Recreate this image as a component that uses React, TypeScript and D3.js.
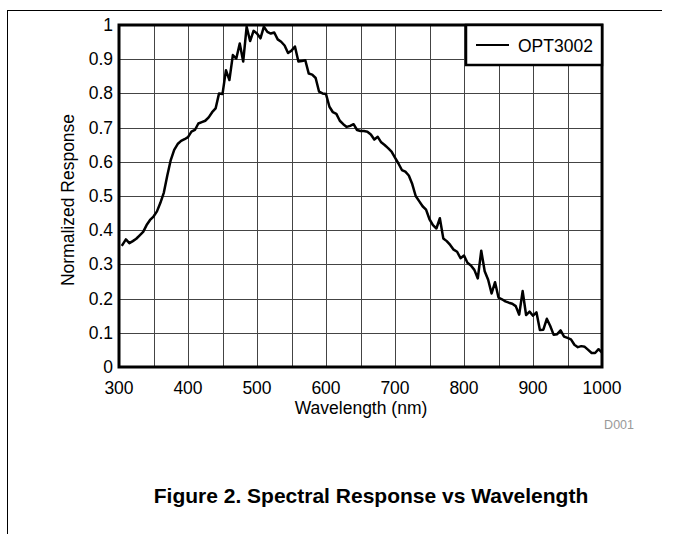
import React from "react";
import * as d3 from "d3";

const wavelengths = [
  304, 310, 315, 320, 325, 330, 335, 340, 345, 350, 355, 360, 365, 370, 375, 380, 385, 390, 395, 400,
  405, 410, 415, 420, 425, 430, 435, 440, 445, 450, 455, 460, 465, 470, 475, 480, 485, 490, 495, 500,
  505, 510, 515, 520, 525, 530, 535, 540, 545, 550, 555, 560, 565, 570, 575, 580, 585, 590, 595, 600,
  605, 610, 615, 620, 625, 630, 635, 640, 645, 650, 655, 660, 665, 670, 675, 680, 685, 690, 695, 700,
  705, 710, 715, 720, 725, 730, 735, 740, 745, 750, 755, 760, 765, 770, 775, 780, 785, 790, 795, 800,
  805, 810, 815, 820, 825, 830, 835, 840, 845, 850, 855, 860, 865, 870, 875, 880, 885, 890, 895, 900,
  905, 910, 915, 920, 925, 930, 935, 940, 945, 950, 955, 960, 965, 970, 975, 980, 985, 990, 995, 1000,
];
const responses = [
  0.354, 0.373, 0.362, 0.368, 0.375, 0.385, 0.395, 0.415, 0.43, 0.44, 0.455, 0.48, 0.51, 0.56, 0.605, 0.635, 0.652, 0.661, 0.666, 0.672,
  0.688, 0.693, 0.712, 0.716, 0.72, 0.73, 0.745, 0.756, 0.8, 0.798, 0.868, 0.839, 0.912, 0.902, 0.946, 0.893, 0.995, 0.953, 0.983, 0.975,
  0.961, 0.995, 0.98, 0.975, 0.978, 0.958, 0.951, 0.94, 0.918, 0.925, 0.937, 0.893, 0.895, 0.897, 0.858, 0.855, 0.845, 0.805, 0.8, 0.798,
  0.761, 0.745, 0.74, 0.72, 0.71, 0.702, 0.705, 0.71, 0.693, 0.69, 0.69, 0.688, 0.68, 0.665, 0.673, 0.657, 0.649, 0.64, 0.63, 0.612,
  0.595, 0.576, 0.571, 0.56, 0.535, 0.5, 0.485, 0.47, 0.46, 0.432, 0.415, 0.405, 0.435, 0.376, 0.368, 0.357, 0.343, 0.337, 0.318, 0.326,
  0.305, 0.297, 0.284, 0.259, 0.34, 0.28, 0.255, 0.215, 0.248, 0.203, 0.198, 0.192, 0.188, 0.185, 0.178, 0.153, 0.222, 0.152, 0.162, 0.15,
  0.16, 0.108, 0.109, 0.141, 0.12, 0.094, 0.096, 0.107, 0.089, 0.085, 0.081, 0.065, 0.058, 0.061, 0.059, 0.05, 0.041, 0.041, 0.052, 0.042,
];
const xTicks = [300, 400, 500, 600, 700, 800, 900, 1000];
const xGrid = d3.range(300, 1001, 50);
const yTicks = [0, 0.1, 0.2, 0.3, 0.4, 0.5, 0.6, 0.7, 0.8, 0.9, 1];
const seriesName = "OPT3002";
const xTitle = "Wavelength (nm)";
const yTitle = "Normalized Response";
const caption = "Figure 2. Spectral Response vs Wavelength";
const figId = "D001";

const FONT = "Arial, 'Liberation Sans', sans-serif";
const FS = 17.5;

export default function App() {
  const left = 119, right = 602, top = 25, bottom = 367;
  const x = d3.scaleLinear().domain([300, 1000]).range([left, right]);
  const y = d3.scaleLinear().domain([0, 1]).range([bottom, top]);
  const data = wavelengths.map((w, i) => [w, responses[i]] as [number, number]);
  const line = d3.line<[number, number]>().x(d => x(d[0])).y(d => y(d[1]));

  return (
    <svg width={673} height={534} style={{ position: "absolute", left: 0, top: 0, background: "#fff" }}>
      {/* page frame */}
      <line x1={7} y1={10.5} x2={662} y2={10.5} stroke="#000" strokeWidth={1} />
      <line x1={7.5} y1={10} x2={7.5} y2={534} stroke="#000" strokeWidth={1} />

      {/* grid */}
      {xGrid.map(v => (
        <line key={"gx" + v} x1={Math.round(x(v)) + 0.5} x2={Math.round(x(v)) + 0.5} y1={top} y2={bottom} stroke="#444" strokeWidth={1} />
      ))}
      {yTicks.map(v => (
        <line key={"gy" + v} x1={left} x2={right} y1={Math.round(y(v)) + 0.5} y2={Math.round(y(v)) + 0.5} stroke="#444" strokeWidth={1} />
      ))}

      {/* curve */}
      <path d={line(data) || ""} fill="none" stroke="#000" strokeWidth={2.5} strokeLinejoin="round" />

      {/* plot border */}
      <rect x={left} y={top} width={right - left} height={bottom - top} fill="none" stroke="#000" strokeWidth={3} />

      {/* legend */}
      <rect x={466} y={25} width={136} height={40} fill="#fff" stroke="#000" strokeWidth={2.5} />
      <line x1={476} x2={509} y1={45} y2={45} stroke="#000" strokeWidth={2} />
      <text x={518} y={52} fontFamily={FONT} fontSize={FS}>{seriesName}</text>

      {/* y tick labels */}
      {yTicks.map(v => (
        <text key={"ty" + v} x={113} y={y(v) + 6} textAnchor="end" fontFamily={FONT} fontSize={FS}>{d3.format("~g")(v)}</text>
      ))}
      {/* x tick labels */}
      {xTicks.map(v => (
        <text key={"tx" + v} x={x(v)} y={394} textAnchor="middle" fontFamily={FONT} fontSize={FS}>{v}</text>
      ))}

      <text x={361} y={414} textAnchor="middle" fontFamily={FONT} fontSize={FS}>{xTitle}</text>
      <text transform={`translate(74,200) rotate(-90)`} textAnchor="middle" fontFamily={FONT} fontSize={FS}>{yTitle}</text>
      <text x={634} y={429} textAnchor="end" fontFamily={FONT} fontSize={12.5} fill="#999">{figId}</text>
      <text x={371} y={503} textAnchor="middle" fontFamily={FONT} fontSize={21} fontWeight="bold">{caption}</text>
    </svg>
  );
}
